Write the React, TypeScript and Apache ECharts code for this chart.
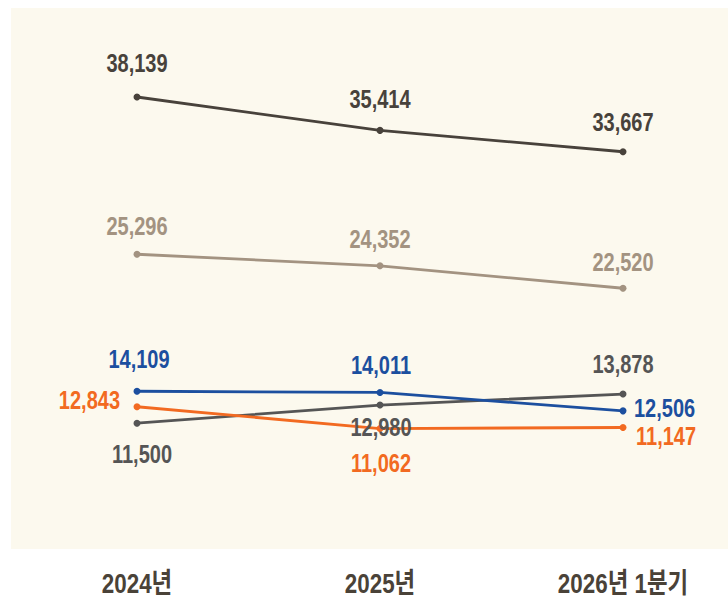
import React, { useEffect, useRef } from "react";
import * as echarts from "echarts";

const categories = ["2024년", "2025년", "2026년 1분기"];
const seriesDark = [38139, 35414, 33667];
const seriesBeige = [25296, 24352, 22520];
const seriesBlue = [14109, 14011, 12506];
const seriesOrange = [12843, 11062, 11147];
const seriesGray = [11500, 12980, 13878];

const FONT = "'Liberation Sans', Arial, 'Noto Sans CJK KR', sans-serif";

type Place = [number, number, string]; // dx, dy, align

function lineSeries(name: string, values: number[], color: string) {
  return {
    name,
    type: "line",
    data: values,
    symbol: "circle",
    symbolSize: 7,
    lineStyle: { color, width: 2.8 },
    itemStyle: { color },
    label: { show: false },
    emphasis: { disabled: true },
    z: 2,
  };
}

function labelSeries(name: string, values: number[], color: string, places: Place[]) {
  return {
    name: name + "-labels",
    type: "custom",
    clip: false,
    silent: true,
    z: 5,
    data: values.map((v, i) => [i, v]),
    renderItem: (params: any, api: any) => {
      const i = params.dataIndex;
      const v = api.value(1);
      const pt = api.coord([api.value(0), v]);
      const p = places[i];
      return {
        type: "text",
        x: pt[0] + p[0],
        y: pt[1] + p[1],
        scaleX: 0.8,
        style: {
          text: Number(v).toLocaleString("en-US"),
          fill: color,
          font: `bold 25px ${FONT}`,
          align: p[2],
          verticalAlign: "middle",
        },
      };
    },
  };
}

export default function App() {
  const ref = useRef<HTMLDivElement>(null);
  useEffect(() => {
    if (!ref.current) return;
    const chart = echarts.init(ref.current, null, { renderer: "svg" });
    chart.setOption({
      animation: false,
      backgroundColor: "#ffffff",
      graphic: [
        {
          type: "rect",
          z: -10,
          silent: true,
          shape: { x: 11, y: 8, width: 717, height: 541 },
          style: { fill: "#fcf9ee" },
        },
      ],
      grid: { left: 137, right: 105, top: 13, bottom: 36 },
      xAxis: {
        type: "category",
        data: categories,
        boundaryGap: false,
        axisLine: { show: false },
        axisTick: { show: false },
        splitLine: { show: false },
        axisLabel: { show: false },
      },
      yAxis: {
        type: "value",
        min: 0,
        max: 45000,
        show: false,
        splitLine: { show: false },
      },
      series: [
        lineSeries("A", seriesDark, "#48423b"),
        lineSeries("B", seriesBeige, "#a39381"),
        lineSeries("E", seriesGray, "#555555"),
        lineSeries("D", seriesOrange, "#f26a21"),
        lineSeries("C", seriesBlue, "#1c4f9f"),
        labelSeries("A", seriesDark, "#48423b", [[0, -33, "center"], [0, -31, "center"], [0, -29, "center"]]),
        labelSeries("B", seriesBeige, "#a39381", [[0, -28, "center"], [0, -26, "center"], [0, -26, "center"]]),
        labelSeries("E", seriesGray, "#555555", [[5, 32, "center"], [1, 23, "center"], [0, -29, "center"]]),
        labelSeries("D", seriesOrange, "#f26a21", [[-17, -6, "right"], [1, 35, "center"], [13, 9, "left"]]),
        labelSeries("C", seriesBlue, "#1c4f9f", [[2, -32, "center"], [1, -27, "center"], [11, -2, "left"]]),
        {
          name: "categories",
          type: "custom",
          clip: false,
          silent: true,
          z: 5,
          data: categories.map((c, i) => [i, 0]),
          renderItem: (params: any, api: any) => {
            const i = params.dataIndex;
            const pt = api.coord([api.value(0), 0]);
            return {
              type: "text",
              x: pt[0],
              y: pt[1] + 19,
              scaleX: 0.8,
              style: {
                text: categories[i],
                fill: "#4a4238",
                font: `bold 28px ${FONT}`,
                align: "center",
                verticalAlign: "middle",
              },
            };
          },
        },
      ],
    });
    return () => chart.dispose();
  }, []);
  return <div ref={ref} style={{ position: "fixed", left: 0, top: 0, width: 728, height: 600 }} />;
}
